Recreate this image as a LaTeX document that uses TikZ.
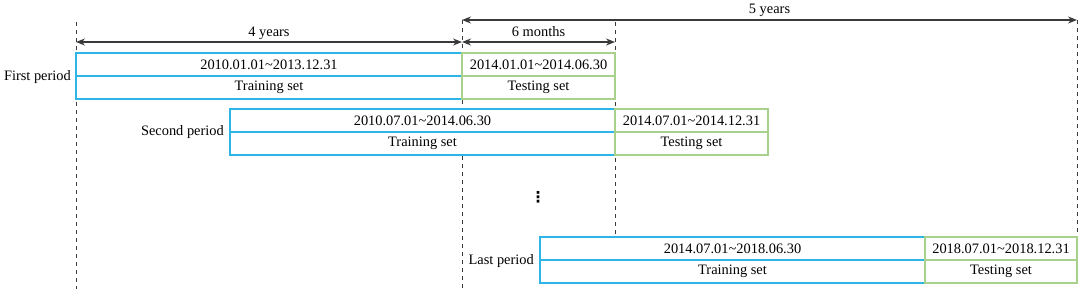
\documentclass[tikz,border=0pt]{standalone}
\usepackage{fontspec}
\setmainfont{Liberation Serif}
\newfontfamily\symfont{DejaVu Sans}
\usetikzlibrary{arrows.meta}
\definecolor{trainblue}{HTML}{2EB5E8}
\definecolor{testgreen}{HTML}{A9D18E}
\definecolor{dimgray}{HTML}{3A3A3A}
\begin{document}
\begin{tikzpicture}[x=1pt,y=-1pt,
  every node/.style={font=\fontsize{14.4}{17}\selectfont},
  cell/.style={draw, fill=white, line width=1.4pt, inner sep=0pt, outer sep=0pt, anchor=north west, minimum height=23pt},
  trainc/.style={cell, draw=trainblue},
  testc/.style={cell, draw=testgreen},
  guide/.style={draw=dimgray, line width=1pt, dash pattern=on 4pt off 4pt},
  dim/.style={draw=dimgray, line width=1.4pt, {Stealth[length=9pt,width=7pt,fill=black]}-{Stealth[length=9pt,width=7pt,fill=black]}},
  dimlabel/.style={anchor=base, inner sep=0pt},
  plabel/.style={anchor=east, inner sep=0pt}
]
\useasboundingbox (0,0) rectangle (1084,289);
% guide lines
\coordinate (g1t) at (76,22);   \coordinate (g1b) at (76,289);
\coordinate (g2t) at (462,20);  \coordinate (g2b) at (462,289);
\coordinate (g3t) at (615,22);  \coordinate (g3b) at (615,237);
\coordinate (g4t) at (1077,20); \coordinate (g4b) at (1077,237);
\draw[guide] (g1t) -- (g1b);
\draw[guide] (g2t) -- (g2b);
\draw[guide] (g3t) -- (g3b);
\draw[guide] (g4t) -- (g4b);
% dimension arrows
\coordinate (a4l) at (76,42);  \coordinate (a4r) at (462,42);
\coordinate (a6l) at (462,42); \coordinate (a6r) at (615,42);
\coordinate (a5l) at (462,20); \coordinate (a5r) at (1077,20);
\draw[dim] (a4l) -- (a4r);
\draw[dim] (a6l) -- (a6r);
\draw[dim] (a5l) -- (a5r);
\node[dimlabel] (l4) at (269,36) {4 years};
\node[dimlabel] (l6) at (538.5,36) {6 months};
\node[dimlabel] (l5) at (769.5,13.5) {5 years};
% first period
\node[trainc, minimum width=386pt] (f1d) at (76,53) {2010.01.01\textasciitilde 2013.12.31};
\node[trainc, minimum width=386pt] (f1s) at (76,76) {Training set};
\node[testc, minimum width=153pt] (f2d) at (462,53) {2014.01.01\textasciitilde 2014.06.30};
\node[testc, minimum width=153pt] (f2s) at (462,76) {Testing set};
\node[plabel] (fp) at (71,77) {First period};
% second period
\node[trainc, minimum width=385pt] (s1d) at (230,109) {2010.07.01\textasciitilde 2014.06.30};
\node[trainc, minimum width=385pt] (s1s) at (230,132) {Training set};
\node[testc, minimum width=153pt] (s2d) at (615,109) {2014.07.01\textasciitilde 2014.12.31};
\node[testc, minimum width=153pt] (s2s) at (615,132) {Testing set};
\node[plabel] (sp) at (224,132) {Second period};
% dots
\node[font=\symfont\fontsize{15}{15}\selectfont\bfseries, inner sep=0pt] (dots) at (538,197) {⋮};
% last period
\node[trainc, minimum width=385pt] (l1d) at (540,237) {2014.07.01\textasciitilde 2018.06.30};
\node[trainc, minimum width=385pt] (l1s) at (540,260) {Training set};
\node[testc, minimum width=152pt] (l2d) at (925,237) {2018.07.01\textasciitilde 2018.12.31};
\node[testc, minimum width=152pt] (l2s) at (925,260) {Testing set};
\node[plabel] (lp) at (534,261) {Last period};
\end{tikzpicture}
\end{document}
